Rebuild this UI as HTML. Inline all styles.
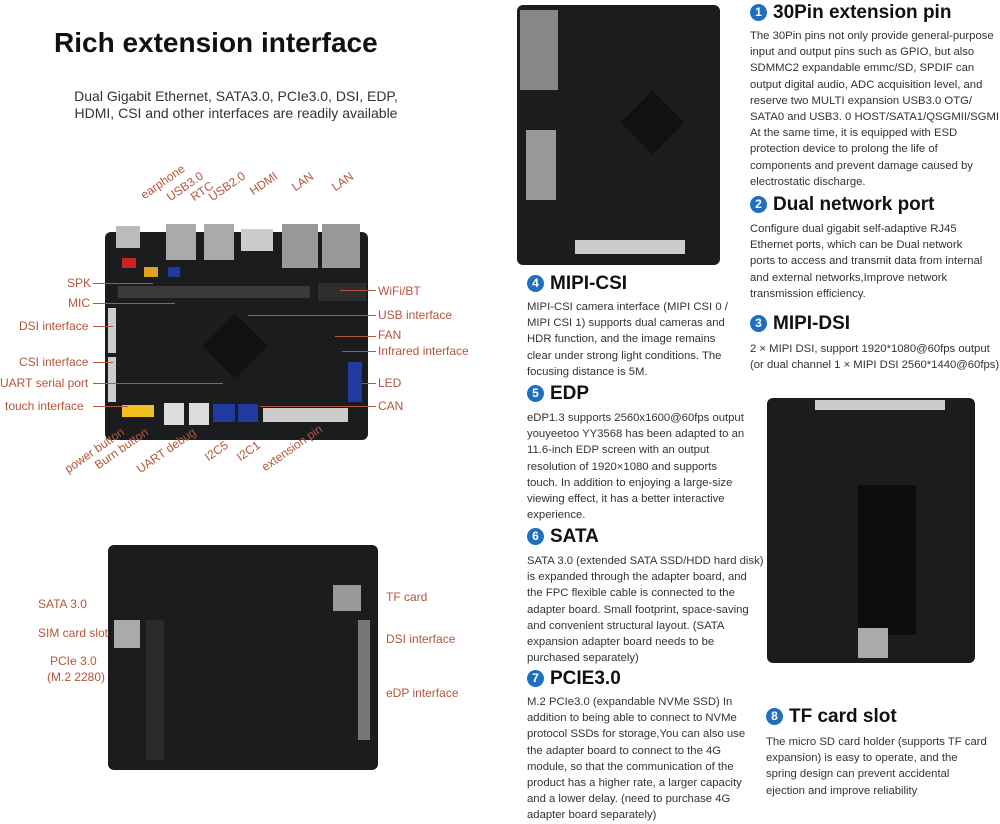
<!DOCTYPE html><html><head><meta charset="utf-8"><style>
body{margin:0;width:1000px;height:819px;background:#fff;position:relative;overflow:hidden;font-family:"Liberation Sans",sans-serif;color:#333}
.a{position:absolute;white-space:nowrap}
.l{position:absolute;white-space:nowrap;color:#b5543a;font-size:12px}
.r{transform-origin:left bottom;transform:rotate(-35deg)}
.h{position:absolute;font-size:19px;font-weight:bold;color:#111;white-space:nowrap}
.n{display:inline-block;width:17px;height:17px;border-radius:50%;background:#1f6fc0;color:#fff;font-size:12px;text-align:center;line-height:17px;vertical-align:2px;margin-right:6px}
.p{position:absolute;font-size:11.3px;line-height:16.2px;color:#333;white-space:nowrap}
.b{position:absolute;background:#1b1c1e;border-radius:6px}
.c{position:absolute}
.ln{position:absolute;background:#b5543a;height:1px}
</style></head><body>
<div class="a" style="left:54px;top:27px;font-size:28px;font-weight:bold;color:#111">Rich extension interface</div>
<div class="a" style="left:0;width:472px;text-align:center;top:88px;font-size:14px;line-height:17px">Dual Gigabit Ethernet, SATA3.0, PCIe3.0, DSI, EDP,<br>HDMI, CSI and other interfaces are readily available</div>

<!-- board 1 -->
<div class="b" style="left:105px;top:232px;width:263px;height:208px"></div>
<div class="c" style="left:116px;top:226px;width:24px;height:22px;background:#bbb"></div>
<div class="c" style="left:166px;top:224px;width:30px;height:36px;background:#aaa"></div>
<div class="c" style="left:204px;top:224px;width:30px;height:36px;background:#aaa"></div>
<div class="c" style="left:241px;top:229px;width:32px;height:22px;background:#ccc"></div>
<div class="c" style="left:282px;top:224px;width:36px;height:44px;background:#999"></div>
<div class="c" style="left:322px;top:224px;width:38px;height:44px;background:#999"></div>
<div class="c" style="left:122px;top:258px;width:14px;height:10px;background:#c22"></div>
<div class="c" style="left:144px;top:267px;width:14px;height:10px;background:#e0a020"></div>
<div class="c" style="left:168px;top:267px;width:12px;height:10px;background:#1f3aa0"></div>
<div class="c" style="left:118px;top:286px;width:192px;height:12px;background:#3a3a3a"></div>
<div class="c" style="left:318px;top:283px;width:48px;height:18px;background:#2e2e2e"></div>
<div class="c" style="left:108px;top:308px;width:8px;height:45px;background:#ccc"></div>
<div class="c" style="left:108px;top:357px;width:8px;height:45px;background:#ccc"></div>
<div class="c" style="left:212px;top:323px;width:46px;height:46px;background:#111;transform:rotate(45deg)"></div>
<div class="c" style="left:122px;top:405px;width:32px;height:12px;background:#f0c020"></div>
<div class="c" style="left:164px;top:403px;width:20px;height:22px;background:#ddd"></div>
<div class="c" style="left:189px;top:403px;width:20px;height:22px;background:#ddd"></div>
<div class="c" style="left:213px;top:404px;width:22px;height:18px;background:#1f3aa0"></div>
<div class="c" style="left:238px;top:404px;width:20px;height:18px;background:#1f3aa0"></div>
<div class="c" style="left:263px;top:408px;width:85px;height:14px;background:#ccc"></div>
<div class="c" style="left:348px;top:362px;width:14px;height:40px;background:#1f3aa0"></div>
<div class="ln" style="left:93px;top:283px;width:60px"></div>
<div class="ln" style="left:93px;top:303px;width:82px"></div>
<div class="ln" style="left:93px;top:326px;width:20px"></div>
<div class="ln" style="left:93px;top:362px;width:20px"></div>
<div class="ln" style="left:93px;top:383px;width:130px"></div>
<div class="ln" style="left:93px;top:406px;width:35px"></div>
<div class="ln" style="left:340px;top:290px;width:36px"></div>
<div class="ln" style="left:248px;top:315px;width:128px"></div>
<div class="ln" style="left:335px;top:336px;width:41px"></div>
<div class="ln" style="left:342px;top:351px;width:34px"></div>
<div class="ln" style="left:362px;top:383px;width:14px"></div>
<div class="ln" style="left:260px;top:406px;width:116px"></div>
<div class="l" style="left:67px;top:276px">SPK</div><div class="l" style="left:68px;top:296px">MIC</div>
<div class="l" style="left:19px;top:319px">DSI interface</div><div class="l" style="left:19px;top:355px">CSI interface</div>
<div class="l" style="left:0px;top:376px">UART serial port</div><div class="l" style="left:5px;top:399px">touch interface</div>
<div class="l" style="left:378px;top:284px">WiFi/BT</div><div class="l" style="left:378px;top:308px">USB interface</div>
<div class="l" style="left:378px;top:328px">FAN</div><div class="l" style="left:378px;top:344px">Infrared interface</div>
<div class="l" style="left:378px;top:376px">LED</div><div class="l" style="left:378px;top:399px">CAN</div>
<div class="l r" style="left:146px;top:188px">earphone</div><div class="l r" style="left:172px;top:190px">USB3.0</div>
<div class="l r" style="left:196px;top:190px">RTC</div><div class="l r" style="left:214px;top:190px">USB2.0</div>
<div class="l r" style="left:255px;top:184px">HDMI</div><div class="l r" style="left:297px;top:180px">LAN</div><div class="l r" style="left:337px;top:180px">LAN</div>
<div class="l r" style="left:70px;top:462px">power button</div><div class="l r" style="left:100px;top:458px">Burn button</div>
<div class="l r" style="left:142px;top:462px">UART debug</div><div class="l r" style="left:210px;top:450px">I2C5</div>
<div class="l r" style="left:242px;top:450px">I2C1</div><div class="l r" style="left:267px;top:460px">extension pin</div>

<!-- board 2 -->
<div class="b" style="left:108px;top:545px;width:270px;height:225px"></div>
<div class="c" style="left:333px;top:585px;width:28px;height:26px;background:#999"></div>
<div class="c" style="left:114px;top:620px;width:26px;height:28px;background:#aaa"></div>
<div class="c" style="left:146px;top:620px;width:18px;height:140px;background:#2a2a2a"></div>
<div class="c" style="left:358px;top:620px;width:12px;height:120px;background:#777"></div>
<div class="l" style="left:38px;top:597px">SATA 3.0</div><div class="l" style="left:38px;top:626px">SIM card slot</div>
<div class="l" style="left:50px;top:654px">PCIe 3.0</div><div class="l" style="left:47px;top:670px">(M.2 2280)</div>
<div class="l" style="left:386px;top:590px">TF card</div><div class="l" style="left:386px;top:632px">DSI interface</div>
<div class="l" style="left:386px;top:686px">eDP interface</div>

<!-- top-middle board -->
<div class="b" style="left:517px;top:5px;width:203px;height:260px"></div>
<div class="c" style="left:520px;top:10px;width:38px;height:80px;background:#888"></div>
<div class="c" style="left:526px;top:130px;width:30px;height:70px;background:#999"></div>
<div class="c" style="left:575px;top:240px;width:110px;height:14px;background:#ccc"></div>
<div class="c" style="left:630px;top:100px;width:45px;height:45px;background:#111;transform:rotate(45deg)"></div>
<!-- right board -->
<div class="b" style="left:767px;top:398px;width:208px;height:265px"></div>
<div class="c" style="left:858px;top:485px;width:58px;height:150px;background:#0d0d0d"></div>
<div class="c" style="left:815px;top:400px;width:130px;height:10px;background:#ccc"></div>
<div class="c" style="left:858px;top:628px;width:30px;height:30px;background:#aaa"></div>

<div class="h" style="left:750px;top:2px"><span class="n">1</span>30Pin extension pin</div>
<div class="p" style="left:750px;top:28px">The 30Pin pins not only provide general-purpose<br>input and output pins such as GPIO, but also<br>SDMMC2 expandable emmc/SD, SPDIF can<br>output digital audio, ADC acquisition level, and<br>reserve two MULTI expansion USB3.0 OTG/<br>SATA0 and USB3. 0 HOST/SATA1/QSGMII/SGMII.<br>At the same time, it is equipped with ESD<br>protection device to prolong the life of<br>components and prevent damage caused by<br>electrostatic discharge.</div>
<div class="h" style="left:750px;top:194px"><span class="n">2</span>Dual network port</div>
<div class="p" style="left:750px;top:221px">Configure dual gigabit self-adaptive RJ45<br>Ethernet ports, which can be Dual network<br>ports to access and transmit data from  internal<br>and external networks,Improve network<br>transmission efficiency.</div>
<div class="h" style="left:750px;top:313px"><span class="n">3</span>MIPI-DSI</div>
<div class="p" style="left:750px;top:341px">2 × MIPI DSI, support 1920*1080@60fps output<br>(or dual channel 1 × MIPI DSI 2560*1440@60fps)</div>

<div class="h" style="left:527px;top:273px"><span class="n">4</span>MIPI-CSI</div>
<div class="p" style="left:527px;top:299px">MIPI-CSI camera interface (MIPI CSI 0 /<br>MIPI CSI 1) supports dual cameras and<br>HDR function, and the image remains<br>clear under strong light conditions. The<br>focusing distance is 5M.</div>
<div class="h" style="left:527px;top:383px"><span class="n">5</span>EDP</div>
<div class="p" style="left:527px;top:410px">eDP1.3 supports 2560x1600@60fps output<br>youyeetoo YY3568 has been adapted to an<br>11.6-inch EDP screen with an output<br>resolution of 1920×1080 and supports<br>touch. In addition to enjoying a large-size<br>viewing effect, it has a better interactive<br>experience.</div>
<div class="h" style="left:527px;top:526px"><span class="n">6</span>SATA</div>
<div class="p" style="left:527px;top:553px">SATA 3.0 (extended SATA SSD/HDD hard disk)<br>is expanded through the adapter board, and<br>the FPC flexible cable is connected to the<br>adapter board. Small footprint, space-saving<br>and convenient structural layout. (SATA<br>expansion adapter board needs to be<br>purchased separately)</div>
<div class="h" style="left:527px;top:668px"><span class="n">7</span>PCIE3.0</div>
<div class="p" style="left:527px;top:694px">M.2 PCIe3.0 (expandable NVMe SSD) In<br>addition to being able to connect to NVMe<br>protocol SSDs for storage,You can also use<br>the adapter board to connect to the 4G<br>module, so that the communication of the<br>product has a higher rate, a larger capacity<br>and a lower delay. (need to purchase 4G<br>adapter board separately)</div>
<div class="h" style="left:766px;top:706px"><span class="n">8</span>TF card slot</div>
<div class="p" style="left:766px;top:734px">The micro SD card holder (supports TF card<br>expansion) is easy to operate, and the<br>spring design can prevent accidental<br>ejection and improve reliability</div>
</body></html>
